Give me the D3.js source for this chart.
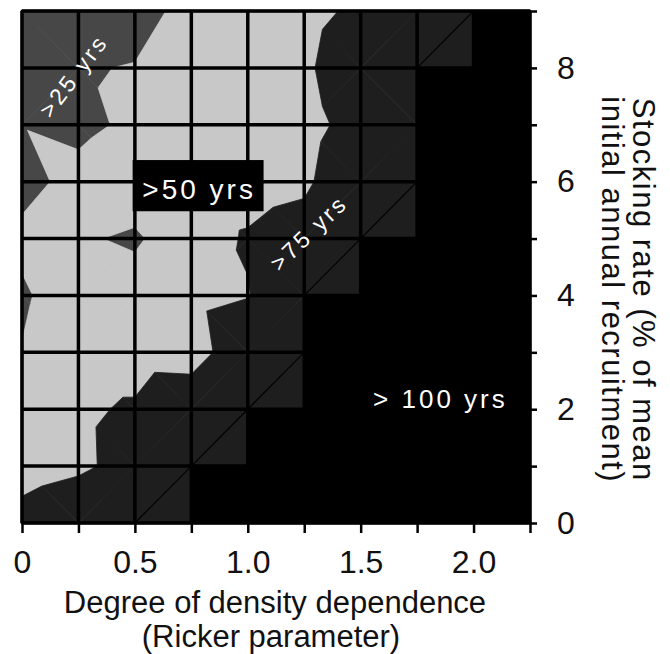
<!DOCTYPE html>
<html>
<head>
<meta charset="utf-8">
<script src="https://cdn.jsdelivr.net/npm/d3@7"></script>
<style>
  body { margin: 0; background: #fff; }
  text { font-family: "Liberation Sans", Arial, Helvetica, sans-serif; }
</style>
</head>
<body>
<div id="chart"></div>
<script>
// grid of simulations: columns = Ricker parameter, rows = stocking rate (top row first)
var xNodes = [0, 0.25, 0.5, 0.75, 1.0, 1.25, 1.5, 1.75, 2.0, 2.25];
var yNodes = [9, 8, 7, 6, 5, 4, 3, 2, 1, 0];
// years to extinction at each node (100 = did not go extinct in the run)
var years = [
  [35,   38,   41,   57.4, 62,   65,  81.7, 90,  100, 100],
  [40,   48.5, 51,   62,   62,   70,  96,   100, 100, 100],
  [49.5, 46.4, 52.8, 62,   62,   65,  86.7, 100, 100, 100],
  [45.4, 54.6, 62,   62,   65.2, 70,  99,   100, 100, 100],
  [53.3, 52.3, 47,   63.7, 77.3, 87,  100,  100, 100, 100],
  [47.9, 58.9, 59.5, 66,   73.7, 100, 100,  100, 100, 100],
  [50.5, 62,   62,   60,   99,   100, 100,  100, 100, 100],
  [62,   70.5, 78.5, 99,   100,  100, 100,  100, 100, 100],
  [62,   70,   85,   100,  100,  100, 100,  100, 100, 100],
  [86.5, 99,   100,  100,  100,  100, 100,  100, 100, 100]
];
var bandBreaks = [25, 50, 75];
var bandColors = ['#6a6a6a', '#474747', '#c8c8c8', '#1e1e1e'];
var capYears = 100;
var xLabels = [0, 0.5, 1.0, 1.5, 2.0];
var yLabels = [0, 2, 4, 6, 8];

var W = 670, H = 654;
var x = d3.scaleLinear().domain([0, 2.25]).range([22, 530]);
var y = d3.scaleLinear().domain([0, 9]).range([523, 11]);

var svg = d3.select('#chart').append('svg')
    .attr('width', W)
    .attr('height', H);

function node(c, r) {
  return {x: xNodes[c], y: yNodes[r], v: years[r][c]};
}

// keep the part of a polygon above (or below) a level, linear in v
function clip(poly, level, above) {
  var out = [];
  for (var k = 0; k < poly.length; k++) {
    var a = poly[k], b = poly[(k + 1) % poly.length];
    var ina = above ? a.v >= level : a.v < level;
    var inb = above ? b.v >= level : b.v < level;
    if (ina) out.push(a);
    if (ina !== inb) {
      var t = (level - a.v) / (b.v - a.v);
      out.push({x: a.x + t * (b.x - a.x), y: a.y + t * (b.y - a.y), v: level});
    }
  }
  return out;
}

// triangles, split along the diagonal joining the higher values
var triangles = [];
var cells = [];
for (var r = 0; r < yNodes.length - 1; r++) {
  for (var c = 0; c < xNodes.length - 1; c++) {
    var tl = node(c, r), tr = node(c + 1, r), bl = node(c, r + 1), br = node(c + 1, r + 1);
    if (tl.v + br.v >= bl.v + tr.v) {
      triangles.push([tl, tr, br], [tl, br, bl]);
    } else {
      triangles.push([bl, tl, tr], [bl, tr, br]);
    }
    cells.push({tl: tl, tr: tr, bl: bl, br: br,
      black: tl.v >= capYears && tr.v >= capYears && bl.v >= capYears && br.v >= capYears});
  }
}

var pieces = [];
triangles.forEach(function(tri) {
  for (var b = 0; b < bandColors.length; b++) {
    var p = tri;
    if (b > 0) p = clip(p, bandBreaks[b - 1], true);
    if (b < bandBreaks.length && p.length) p = clip(p, bandBreaks[b], false);
    if (p.length > 2) pieces.push({poly: p, color: bandColors[b]});
  }
});

var line = d3.line()
    .x(function(d) { return x(d.x); })
    .y(function(d) { return y(d.y); });

var plot = svg.append('g');

plot.selectAll('.band')
    .data(pieces)
    .enter().append('path')
      .attr('class', 'band')
      .attr('d', function(d) { return line(d.poly) + 'Z'; })
      .attr('fill', function(d) { return d.color; })
      .attr('stroke', function(d) { return d.color; })
      .attr('stroke-width', 0.8)
      .attr('stroke-linejoin', 'round');

// cells that never went extinct
plot.selectAll('.black')
    .data(cells.filter(function(d) { return d.black; }))
    .enter().append('rect')
      .attr('x', function(d) { return x(d.bl.x); })
      .attr('y', function(d) { return y(d.tl.y); })
      .attr('width', function(d) { return x(d.br.x) - x(d.bl.x); })
      .attr('height', function(d) { return y(d.bl.y) - y(d.tl.y); })
      .attr('fill', '#000');

// thin seams of the triangulation next to the black steps
plot.selectAll('.seam')
    .data(cells.filter(function(d) { return !d.black && d.bl.v >= capYears && d.tr.v >= capYears; }))
    .enter().append('line')
      .attr('x1', function(d) { return x(d.bl.x); })
      .attr('y1', function(d) { return y(d.bl.y); })
      .attr('x2', function(d) { return x(d.tr.x); })
      .attr('y2', function(d) { return y(d.tr.y); })
      .attr('stroke', '#000')
      .attr('stroke-width', 1.2);

// grid
plot.selectAll('.vgrid')
    .data(xNodes)
    .enter().append('line')
      .attr('x1', function(d) { return x(d); })
      .attr('x2', function(d) { return x(d); })
      .attr('y1', y(9)).attr('y2', y(0))
      .attr('stroke', '#000').attr('stroke-width', 3.5);
plot.selectAll('.hgrid')
    .data(yNodes)
    .enter().append('line')
      .attr('y1', function(d) { return y(d); })
      .attr('y2', function(d) { return y(d); })
      .attr('x1', x(0)).attr('x2', x(2.25))
      .attr('stroke', '#000').attr('stroke-width', 3.5);

plot.append('rect')
    .attr('x', x(0)).attr('y', y(9))
    .attr('width', x(2.25) - x(0)).attr('height', y(0) - y(9))
    .attr('fill', 'none').attr('stroke', '#000').attr('stroke-width', 2.5);

// labels inside the plot
plot.append('rect')
    .attr('x', x(0.49)).attr('y', y(6.38))
    .attr('width', x(1.07) - x(0.49)).attr('height', y(5.48) - y(6.38))
    .attr('fill', '#000');
plot.append('text')
    .attr('x', x(0.78) + 1).attr('y', y(5.5) - 11)
    .attr('text-anchor', 'middle')
    .attr('fill', '#fff')
    .style('font-size', '28px')
    .style('letter-spacing', '3px')
    .text('>50 yrs');

plot.append('text')
    .attr('transform', 'translate(' + x(1.555) + ',' + y(2.02) + ')')
    .attr('fill', '#fff')
    .style('font-size', '26px')
    .style('letter-spacing', '3px')
    .text('> 100 yrs');

plot.append('text')
    .attr('transform', 'translate(' + x(0.228) + ',' + y(7.86) + ') rotate(-53)')
    .attr('text-anchor', 'middle')
    .attr('dy', '0.35em')
    .attr('fill', '#fff')
    .style('font-size', '23px')
    .style('letter-spacing', '3px')
    .text('>25 yrs');

plot.append('text')
    .attr('transform', 'translate(' + x(1.27) + ',' + y(5.1) + ') rotate(-44)')
    .attr('text-anchor', 'middle')
    .attr('dy', '0.35em')
    .attr('fill', '#fff')
    .style('font-size', '23px')
    .style('letter-spacing', '3px')
    .text('>75 yrs');

// axes
var xAxis = svg.append('g')
    .attr('transform', 'translate(0,' + y(0) + ')')
    .call(d3.axisBottom(x)
      .tickValues(xNodes)
      .tickSize(10)
      .tickPadding(17)
      .tickFormat(function(d) {
        if (xLabels.indexOf(d) < 0) return '';
        return d === 0 ? '0' : d3.format('.1f')(d);
      }));

var yAxis = svg.append('g')
    .attr('transform', 'translate(' + x(2.25) + ',0)')
    .call(d3.axisRight(y)
      .tickValues(yNodes)
      .tickSize(7)
      .tickPadding(20)
      .tickFormat(function(d) { return yLabels.indexOf(d) < 0 ? '' : d; }));

[xAxis, yAxis].forEach(function(g) {
  g.select('.domain').remove();
  g.selectAll('line').attr('stroke', '#000').attr('stroke-width', 2.5);
  g.selectAll('text')
    .attr('fill', '#111')
    .style('font-size', '32px')
    .style('font-family', '"Liberation Sans", Arial, Helvetica, sans-serif');
});

// axis titles
svg.append('text')
    .attr('x', 275).attr('y', 613)
    .attr('text-anchor', 'middle')
    .attr('fill', '#111')
    .style('font-size', '31px')
    .text('Degree of density dependence');
svg.append('text')
    .attr('x', 271).attr('y', 647)
    .attr('text-anchor', 'middle')
    .attr('fill', '#111')
    .style('font-size', '31px')
    .text('(Ricker parameter)');

var yTitle = svg.append('text')
    .attr('transform', 'translate(633,' + y(4.1) + ') rotate(90)')
    .attr('text-anchor', 'middle')
    .attr('fill', '#111')
    .style('font-size', '31px')
    .style('letter-spacing', '1.5px');
yTitle.append('tspan').attr('x', 0).attr('dy', 0).text('Stocking rate (% of mean');
yTitle.append('tspan').attr('x', 0).attr('dy', '1em').text('initial annual recruitment)');
</script>
</body>
</html>
